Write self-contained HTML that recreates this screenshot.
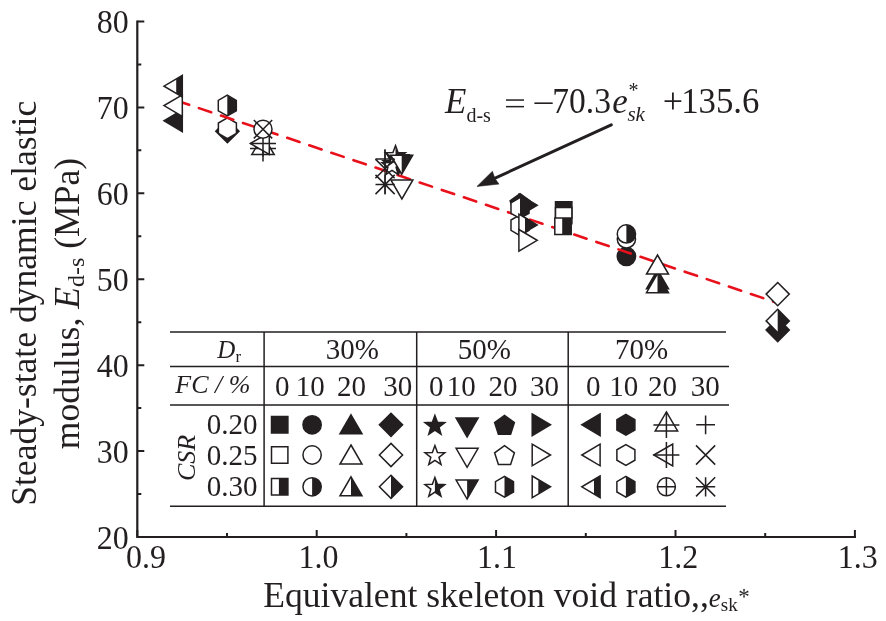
<!DOCTYPE html><html><head><meta charset="utf-8"><style>html,body{margin:0;padding:0;background:#fff;width:886px;height:621px;overflow:hidden}svg{display:block;will-change:transform;font-family:"Liberation Serif",serif}</style></head><body><svg width="886" height="621" viewBox="0 0 886 621" font-family="Liberation Serif, serif" fill="#231f20">
<rect width="886" height="621" fill="#fff"/>
<path d="M137.3 21.48V537H854.9" fill="none" stroke="#231f20" stroke-width="2.2" stroke-linejoin="miter" stroke-linecap="square"/>
<path d="M137.3 537H144.3M137.3 494.04H141.3M137.3 451.08H144.3M137.3 408.12H141.3M137.3 365.16H144.3M137.3 322.2H141.3M137.3 279.24H144.3M137.3 236.28H141.3M137.3 193.32H144.3M137.3 150.36H141.3M137.3 107.4H144.3M137.3 64.44H141.3M137.3 21.48H144.3M137.3 537V530M227 537V533M316.7 537V530M406.4 537V533M496.1 537V530M585.8 537V533M675.5 537V530M765.2 537V533M854.9 537V530" stroke="#231f20" stroke-width="2.0" fill="none"/>
<text transform="translate(128.6 548.8) scale(0.94 1)" font-size="34" text-anchor="end">20</text>
<text transform="translate(128.6 462.88) scale(0.94 1)" font-size="34" text-anchor="end">30</text>
<text transform="translate(128.6 376.96) scale(0.94 1)" font-size="34" text-anchor="end">40</text>
<text transform="translate(128.6 291.04) scale(0.94 1)" font-size="34" text-anchor="end">50</text>
<text transform="translate(128.6 205.12) scale(0.94 1)" font-size="34" text-anchor="end">60</text>
<text transform="translate(128.6 119.2) scale(0.94 1)" font-size="34" text-anchor="end">70</text>
<text transform="translate(128.6 33.28) scale(0.94 1)" font-size="34" text-anchor="end">80</text>
<text transform="translate(126 567.6) scale(0.94 1)" font-size="34">0.9</text>
<text transform="translate(298.6 567.6) scale(0.94 1)" font-size="34">1.0</text>
<text transform="translate(477 567.6) scale(0.94 1)" font-size="34">1.1</text>
<text transform="translate(658.3 567.6) scale(0.94 1)" font-size="34">1.2</text>
<text transform="translate(837.8 567.6) scale(0.94 1)" font-size="34">1.3</text>
<text transform="translate(36.4 303.3) rotate(-90)" font-size="35.6" text-anchor="middle">Steady-state dynamic elastic</text>
<text transform="translate(78.6 303.5) rotate(-90)" font-size="35.6" text-anchor="middle">modulus, <tspan font-style="italic">E</tspan><tspan font-size="24" dy="5">d-s</tspan><tspan dy="-5"> (MPa)</tspan></text>
<text x="263.2" y="606.5" font-size="35.6">Equivalent skeleton void ratio,,<tspan font-style="italic" font-size="27">e</tspan><tspan font-size="19" dy="4">sk</tspan><tspan font-size="23" dy="-7" dx="0.5">*</tspan></text>
<text x="445.1" y="112.5" font-size="35" text-anchor="start" font-style="italic">E</text>
<text x="466.4" y="121.7" font-size="20" text-anchor="start">d-s</text>
<rect x="506" y="99.3" width="18" height="1.5"/><rect x="506" y="105.9" width="18" height="1.5"/>
<rect x="534.4" y="102.4" width="18.3" height="1.6"/>
<text transform="translate(552.3 113) scale(0.92 1)" font-size="36.5">70.3</text>
<text x="612.2" y="112.8" font-size="35" text-anchor="start" font-style="italic">e</text>
<text x="628.5" y="97.4" font-size="20" text-anchor="start">*</text>
<text x="627.4" y="121" font-size="21" text-anchor="start" font-style="italic">sk</text>
<text x="662.8" y="112.8" font-size="36" text-anchor="start">+</text>
<text transform="translate(681.2 113.2) scale(0.945 1)" font-size="36.8">135.6</text>
<path d="M611.3 124.9L494 178.6" stroke="#231f20" stroke-width="3" stroke-linecap="round"/>
<polygon points="477,186.4 492.4,171.3 494.8,178.2 498.9,184.1" fill="#231f20" stroke="#231f20" stroke-width="0.6" stroke-linejoin="miter"/>
<path d="M170 331.9H726M170 366.6H729M170 405.1H729M170 506.2H726M264.1 331.9V506.2M416.7 331.9V506.2M568.2 331.9V506.2" stroke="#231f20" stroke-width="1.5" fill="none"/>
<text x="217.2" y="357.9" font-size="25" text-anchor="start" font-style="italic">D</text>
<text x="235.5" y="361.9" font-size="17" text-anchor="start">r</text>
<text x="175.3" y="392.5" font-size="26" text-anchor="start" font-style="italic">FC / %</text>
<text x="325.8" y="358.7" font-size="29" text-anchor="start">30%</text>
<text x="457.8" y="358.7" font-size="29" text-anchor="start">50%</text>
<text x="614.9" y="358.7" font-size="29" text-anchor="start">70%</text>
<text x="274.9" y="395.8" font-size="29" text-anchor="start">0</text>
<text x="295.8" y="395.8" font-size="29" text-anchor="start">10</text>
<text x="337" y="395.8" font-size="29" text-anchor="start">20</text>
<text x="383.2" y="395.8" font-size="29" text-anchor="start">30</text>
<text x="428.9" y="395.8" font-size="29" text-anchor="start">0</text>
<text x="446.7" y="395.8" font-size="29" text-anchor="start">10</text>
<text x="488.5" y="395.8" font-size="29" text-anchor="start">20</text>
<text x="530" y="395.8" font-size="29" text-anchor="start">30</text>
<text x="586" y="395.8" font-size="29" text-anchor="start">0</text>
<text x="609.2" y="395.8" font-size="29" text-anchor="start">10</text>
<text x="648" y="395.8" font-size="29" text-anchor="start">20</text>
<text x="690.7" y="395.8" font-size="29" text-anchor="start">30</text>
<text x="206.8" y="434" font-size="29" text-anchor="start">0.20</text>
<text x="206.8" y="465" font-size="29" text-anchor="start">0.25</text>
<text x="206.8" y="496" font-size="29" text-anchor="start">0.30</text>
<text transform="translate(195 458) rotate(-90)" font-size="26" font-style="italic" text-anchor="middle">CSR</text>
<polygon points="271.5,416.6 287.9,416.6 287.9,433 271.5,433" fill="#231f20" stroke="#231f20" stroke-width="1.5"/>
<polygon points="271.5,446.8 287.9,446.8 287.9,463.2 271.5,463.2" fill="#fff" stroke="#231f20" stroke-width="1.5"/>
<polygon points="271.5,478.6 287.9,478.6 287.9,495 271.5,495" fill="#fff"/><polygon points="278.9,478.6 287.9,478.6 287.9,495 278.9,495" fill="#231f20"/><polygon points="271.5,478.6 287.9,478.6 287.9,495 271.5,495" fill="none" stroke="#231f20" stroke-width="1.5"/>
<circle cx="312.1" cy="424.8" r="9.15" fill="#231f20" stroke="#231f20" stroke-width="1.5"/>
<circle cx="312.1" cy="455" r="9.15" fill="#fff" stroke="#231f20" stroke-width="1.5"/>
<circle cx="312.1" cy="486.8" r="9.15" fill="#fff"/><path d="M312.1 477.65 A9.15 9.15 0 0 1 312.1 495.95 Z" fill="#231f20"/><circle cx="312.1" cy="486.8" r="9.15" fill="none" stroke="#231f20" stroke-width="1.5"/>
<polygon points="351,414.8 362,433.8 340,433.8" fill="#231f20" stroke="#231f20" stroke-width="1.5"/>
<polygon points="351,445 362,464 340,464" fill="#fff" stroke="#231f20" stroke-width="1.5"/>
<polygon points="351,476.8 362,495.8 340,495.8" fill="#fff"/><polygon points="351,476.8 362,495.8 351,495.8 351,476.8" fill="#231f20"/><polygon points="351,476.8 362,495.8 340,495.8" fill="none" stroke="#231f20" stroke-width="1.5"/>
<polygon points="391,413.2 402.6,424.8 391,436.4 379.4,424.8" fill="#231f20" stroke="#231f20" stroke-width="1.5"/>
<polygon points="391,443.4 402.6,455 391,466.6 379.4,455" fill="#fff" stroke="#231f20" stroke-width="1.5"/>
<polygon points="391,475.2 402.6,486.8 391,498.4 379.4,486.8" fill="#fff"/><polygon points="391,475.2 402.6,486.8 391,498.4 391,498.4 391,475.2" fill="#231f20"/><polygon points="391,475.2 402.6,486.8 391,498.4 379.4,486.8" fill="none" stroke="#231f20" stroke-width="1.5"/>
<polygon points="434.9,415.39 437.43,422.31 444.79,422.58 438.99,427.12 441.01,434.21 434.9,430.09 428.79,434.21 430.81,427.12 425.01,422.58 432.37,422.31" fill="#231f20" stroke="#231f20" stroke-width="1.5"/>
<polygon points="434.9,445.59 437.43,452.51 444.79,452.78 438.99,457.32 441.01,464.41 434.9,460.29 428.79,464.41 430.81,457.32 425.01,452.78 432.37,452.51" fill="#fff" stroke="#231f20" stroke-width="1.5"/>
<polygon points="434.9,477.39 437.43,484.31 444.79,484.58 438.99,489.12 441.01,496.21 434.9,492.09 428.79,496.21 430.81,489.12 425.01,484.58 432.37,484.31" fill="#fff"/><polygon points="434.9,477.39 437.43,484.31 444.79,484.58 438.99,489.12 441.01,496.21 434.9,492.09 434.9,492.09 434.9,477.39" fill="#231f20"/><polygon points="434.9,477.39 437.43,484.31 444.79,484.58 438.99,489.12 441.01,496.21 434.9,492.09 428.79,496.21 430.81,489.12 425.01,484.58 432.37,484.31" fill="none" stroke="#231f20" stroke-width="1.5"/>
<polygon points="456.1,418.1 478.1,418.1 467.1,437.1" fill="#231f20" stroke="#231f20" stroke-width="1.5"/>
<polygon points="456.1,448.3 478.1,448.3 467.1,467.3" fill="#fff" stroke="#231f20" stroke-width="1.5"/>
<polygon points="456.1,480.1 478.1,480.1 467.1,499.1" fill="#fff"/><polygon points="467.1,480.1 478.1,480.1 467.1,499.1 467.1,499.1" fill="#231f20"/><polygon points="456.1,480.1 478.1,480.1 467.1,499.1" fill="none" stroke="#231f20" stroke-width="1.5"/>
<polygon points="504.5,415.39 514.39,422.58 510.61,434.21 498.39,434.21 494.61,422.58" fill="#231f20" stroke="#231f20" stroke-width="1.5"/>
<polygon points="504.5,445.59 514.39,452.78 510.61,464.41 498.39,464.41 494.61,452.78" fill="#fff" stroke="#231f20" stroke-width="1.5"/>
<polygon points="504.5,476.4 513.51,481.6 513.51,492 504.5,497.2 495.49,492 495.49,481.6" fill="#fff"/><polygon points="504.5,476.4 513.51,481.6 513.51,492 504.5,497.2 504.5,497.2 504.5,476.4" fill="#231f20"/><polygon points="504.5,476.4 513.51,481.6 513.51,492 504.5,497.2 495.49,492 495.49,481.6" fill="none" stroke="#231f20" stroke-width="1.5"/>
<polygon points="532.2,414 550.5,424.8 532.2,435.6" fill="#231f20" stroke="#231f20" stroke-width="1.5"/>
<polygon points="532.2,444.2 550.5,455 532.2,465.8" fill="#fff" stroke="#231f20" stroke-width="1.5"/>
<polygon points="532.2,476 550.5,486.8 532.2,497.6" fill="#fff"/><polygon points="538.3,479.6 550.5,486.8 538.3,494" fill="#231f20"/><polygon points="532.2,476 550.5,486.8 532.2,497.6" fill="none" stroke="#231f20" stroke-width="1.5"/>
<polygon points="600.1,414 581.8,424.8 600.1,435.6" fill="#231f20" stroke="#231f20" stroke-width="1.5"/>
<polygon points="600.1,444.2 581.8,455 600.1,465.8" fill="#fff" stroke="#231f20" stroke-width="1.5"/>
<polygon points="600.1,476 581.8,486.8 600.1,497.6" fill="#fff"/><polygon points="600.1,476 594,479.6 594,494 600.1,497.6" fill="#231f20"/><polygon points="600.1,476 581.8,486.8 600.1,497.6" fill="none" stroke="#231f20" stroke-width="1.5"/>
<polygon points="625.9,414.4 634.91,419.6 634.91,430 625.9,435.2 616.89,430 616.89,419.6" fill="#231f20" stroke="#231f20" stroke-width="1.5"/>
<polygon points="625.9,444.6 634.91,449.8 634.91,460.2 625.9,465.4 616.89,460.2 616.89,449.8" fill="#fff" stroke="#231f20" stroke-width="1.5"/>
<polygon points="625.9,476.4 634.91,481.6 634.91,492 625.9,497.2 616.89,492 616.89,481.6" fill="#fff"/><polygon points="625.9,476.4 634.91,481.6 634.91,492 625.9,497.2 625.9,497.2 625.9,476.4" fill="#231f20"/><polygon points="625.9,476.4 634.91,481.6 634.91,492 625.9,497.2 616.89,492 616.89,481.6" fill="none" stroke="#231f20" stroke-width="1.5"/>
<polygon points="666.4,411.9 677.6,430.9 655.2,430.9" fill="#fff" stroke="#231f20" stroke-width="1.5"/><path d="M653.4 424.9H679.4M666.4 411.9V437.9" stroke="#231f20" stroke-width="1.5"/>
<polygon points="653.8,455 672.7,444 672.7,466" fill="#fff" stroke="#231f20" stroke-width="1.5"/><path d="M653.4 455H679.4M666.4 442V468" stroke="#231f20" stroke-width="1.5"/>
<circle cx="666.4" cy="486.8" r="9.0" fill="#fff" stroke="#231f20" stroke-width="1.5"/><path d="M657.4 486.8H675.4M666.4 477.8V495.8" stroke="#231f20" stroke-width="1.5"/>
<path d="M696.2 424.8H715M705.6 415.4V434.2" stroke="#231f20" stroke-width="1.5" fill="none"/>
<path d="M696 445.4L715.2 464.6M696 464.6L715.2 445.4" stroke="#231f20" stroke-width="1.5" fill="none"/>
<path d="M696 486.8H715.2M705.6 477.2V496.4M696 477.2L715.2 496.4M696 496.4L715.2 477.2" stroke="#231f20" stroke-width="1.5" fill="none"/>
<polygon points="227.4,119.6 239,131.2 227.4,142.8 215.8,131.2" fill="#231f20" stroke="#231f20" stroke-width="1.5"/>
<polygon points="227.4,117.8 236.41,123 236.41,133.4 227.4,138.6 218.39,133.4 218.39,123" fill="#fff" stroke="#231f20" stroke-width="1.5"/>
<polygon points="227.3,95.2 236.31,100.4 236.31,110.8 227.3,116 218.29,110.8 218.29,100.4" fill="#fff"/><polygon points="227.3,95.2 236.31,100.4 236.31,110.8 227.3,116 227.3,116 227.3,95.2" fill="#231f20"/><polygon points="227.3,95.2 236.31,100.4 236.31,110.8 227.3,116 218.29,110.8 218.29,100.4" fill="none" stroke="#231f20" stroke-width="1.5"/>
<circle cx="626.4" cy="256.4" r="9.15" fill="#231f20" stroke="#231f20" stroke-width="1.5"/>
<polygon points="393,153.59 395.53,160.51 402.89,160.78 397.09,165.32 399.11,172.41 393,168.29 386.89,172.41 388.91,165.32 383.11,160.78 390.47,160.51" fill="#231f20" stroke="#231f20" stroke-width="1.5"/>
<polygon points="387.2,154.8 409.2,154.8 398.2,173.8" fill="#231f20" stroke="#231f20" stroke-width="1.5"/>
<polygon points="520,193.59 529.89,200.78 526.11,212.41 513.89,212.41 510.11,200.78" fill="#231f20" stroke="#231f20" stroke-width="1.5"/>
<polygon points="518.9,194.5 537.2,205.3 518.9,216.1" fill="#231f20" stroke="#231f20" stroke-width="1.5"/>
<path d="M176.8 100.68L777.7 303" stroke="#e8111b" stroke-width="2.6" stroke-dasharray="13 10.3" stroke-linecap="round" fill="none"/>
<polygon points="182.3,110 164,120.8 182.3,131.6" fill="#231f20" stroke="#231f20" stroke-width="1.5"/>
<polygon points="182.3,94.8 164,105.6 182.3,116.4" fill="#fff" stroke="#231f20" stroke-width="1.5"/>
<polygon points="182.3,75.4 164,86.2 182.3,97" fill="#fff"/><polygon points="182.3,75.4 176.2,79 176.2,93.4 182.3,97" fill="#231f20"/><polygon points="182.3,75.4 164,86.2 182.3,97" fill="none" stroke="#231f20" stroke-width="1.5"/>
<polygon points="263,135.5 274.2,154.5 251.8,154.5" fill="#fff" stroke="#231f20" stroke-width="1.5"/><path d="M250 148.5H276M263 135.5V161.5" stroke="#231f20" stroke-width="1.5"/>
<polygon points="250.4,143.5 269.3,132.5 269.3,154.5" fill="#fff" stroke="#231f20" stroke-width="1.5"/><path d="M250 143.5H276M263 130.5V156.5" stroke="#231f20" stroke-width="1.5"/>
<circle cx="263" cy="129.2" r="9.0" fill="#fff" stroke="#231f20" stroke-width="1.5"/><path d="M253.8 120L272.2 138.4M253.8 138.4L272.2 120" stroke="#231f20" stroke-width="1.5"/>
<polygon points="392,155.59 394.53,162.51 401.89,162.78 396.09,167.32 398.11,174.41 392,170.29 385.89,174.41 387.91,167.32 382.11,162.78 389.47,162.51" fill="#fff" stroke="#231f20" stroke-width="1.5"/>
<polygon points="390.9,180 412.9,180 401.9,199" fill="#fff" stroke="#231f20" stroke-width="1.5"/>
<polygon points="395.5,145.59 398.03,152.51 405.39,152.78 399.59,157.32 401.61,164.41 395.5,160.29 389.39,164.41 391.41,157.32 385.61,152.78 392.97,152.51" fill="#fff"/><polygon points="395.5,145.59 398.03,152.51 405.39,152.78 399.59,157.32 401.61,164.41 395.5,160.29 395.5,160.29 395.5,145.59" fill="#231f20"/><polygon points="395.5,145.59 398.03,152.51 405.39,152.78 399.59,157.32 401.61,164.41 395.5,160.29 389.39,164.41 391.41,157.32 385.61,152.78 392.97,152.51" fill="none" stroke="#231f20" stroke-width="1.5"/>
<polygon points="390.7,155.2 412.7,155.2 401.7,174.2" fill="#fff"/><polygon points="401.7,155.2 412.7,155.2 401.7,174.2 401.7,174.2" fill="#231f20"/><polygon points="390.7,155.2 412.7,155.2 401.7,174.2" fill="none" stroke="#231f20" stroke-width="1.5"/>
<path d="M375.6 159H394.4M385 149.6V168.4" stroke="#231f20" stroke-width="1.5" fill="none"/>
<path d="M375.4 159.1L394.6 178.3M375.4 178.3L394.6 159.1" stroke="#231f20" stroke-width="1.5" fill="none"/>
<path d="M375.5 184.5H394.7M385.1 174.9V194.1M375.5 174.9L394.7 194.1M375.5 194.1L394.7 174.9" stroke="#231f20" stroke-width="1.5" fill="none"/>
<path d="M385 149.5V194.5" stroke="#231f20" stroke-width="1.3"/>
<polygon points="520,214.8 529.01,220 529.01,230.4 520,235.6 510.99,230.4 510.99,220" fill="#fff" stroke="#231f20" stroke-width="1.5"/>
<polygon points="520,197.7 529.01,202.9 529.01,213.3 520,218.5 510.99,213.3 510.99,202.9" fill="#fff"/><polygon points="520,197.7 529.01,202.9 529.01,213.3 520,218.5 520,218.5 520,197.7" fill="#231f20"/><polygon points="520,197.7 529.01,202.9 529.01,213.3 520,218.5 510.99,213.3 510.99,202.9" fill="none" stroke="#231f20" stroke-width="1.5"/>
<polygon points="518.9,214.2 537.2,225 518.9,235.8" fill="#fff"/><polygon points="525,217.8 537.2,225 525,232.2" fill="#231f20"/><polygon points="518.9,214.2 537.2,225 518.9,235.8" fill="none" stroke="#231f20" stroke-width="1.5"/>
<polygon points="518.9,229.5 537.2,240.3 518.9,251.1" fill="#fff" stroke="#231f20" stroke-width="1.5"/>
<polygon points="555.5,201.8 571.9,201.8 571.9,218.2 555.5,218.2" fill="#231f20" stroke="#231f20" stroke-width="1.5"/>
<polygon points="555.5,207.4 571.9,207.4 571.9,223.8 555.5,223.8" fill="#fff" stroke="#231f20" stroke-width="1.5"/>
<polygon points="554.8,218 571.2,218 571.2,234.4 554.8,234.4" fill="#fff"/><polygon points="562.2,218 571.2,218 571.2,234.4 562.2,234.4" fill="#231f20"/><polygon points="554.8,218 571.2,218 571.2,234.4 554.8,234.4" fill="none" stroke="#231f20" stroke-width="1.5"/>
<circle cx="626.4" cy="238.9" r="9.15" fill="#fff" stroke="#231f20" stroke-width="1.5"/>
<circle cx="626.4" cy="233.9" r="9.15" fill="#fff"/><path d="M626.4 224.75 A9.15 9.15 0 0 1 626.4 243.05 Z" fill="#231f20"/><circle cx="626.4" cy="233.9" r="9.15" fill="none" stroke="#231f20" stroke-width="1.5"/>
<polygon points="657.5,269.8 668.5,288.8 646.5,288.8" fill="#231f20" stroke="#231f20" stroke-width="1.5"/>
<polygon points="657.5,273.7 668.5,292.7 646.5,292.7" fill="#fff"/><polygon points="657.5,273.7 668.5,292.7 657.5,292.7 657.5,273.7" fill="#231f20"/><polygon points="657.5,273.7 668.5,292.7 646.5,292.7" fill="none" stroke="#231f20" stroke-width="1.5"/>
<polygon points="657.5,255 668.5,274 646.5,274" fill="#fff" stroke="#231f20" stroke-width="1.5"/>
<polygon points="777.7,318.4 789.3,330 777.7,341.6 766.1,330" fill="#231f20" stroke="#231f20" stroke-width="1.5"/>
<polygon points="777.7,309.3 789.3,320.9 777.7,332.5 766.1,320.9" fill="#fff"/><polygon points="777.7,309.3 789.3,320.9 777.7,332.5 777.7,332.5 777.7,309.3" fill="#231f20"/><polygon points="777.7,309.3 789.3,320.9 777.7,332.5 766.1,320.9" fill="none" stroke="#231f20" stroke-width="1.5"/>
<polygon points="777.7,282.5 789.3,294.1 777.7,305.7 766.1,294.1" fill="#fff" stroke="#231f20" stroke-width="1.5"/>
</svg></body></html>
